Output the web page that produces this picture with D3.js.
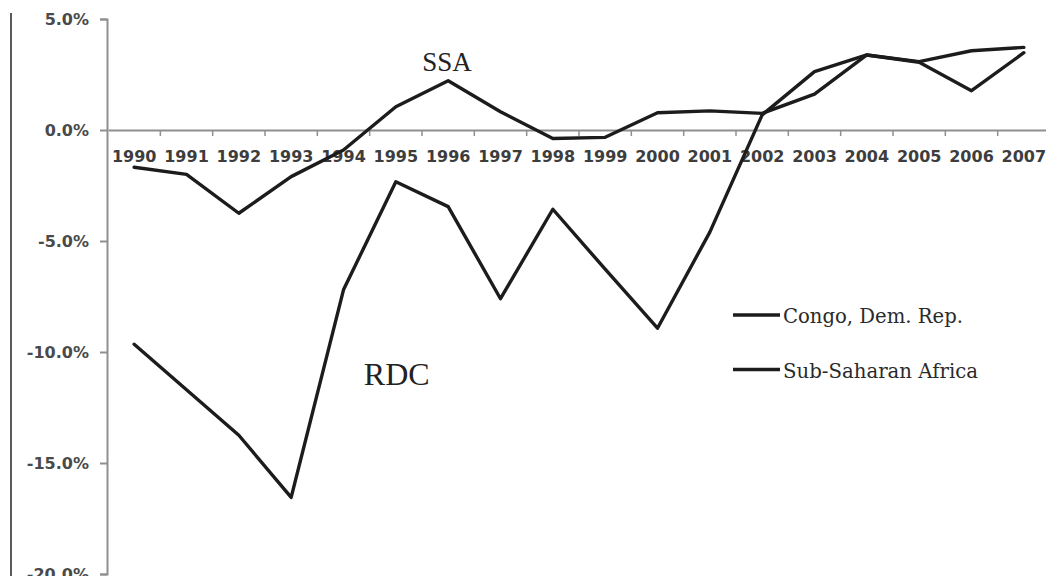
<!DOCTYPE html>
<html>
<head>
<meta charset="utf-8">
<script src="https://cdn.jsdelivr.net/npm/d3@7"></script>
<style>
  html, body { margin: 0; padding: 0; background: #fff; }
  svg { display: block; }
</style>
</head>
<body>
<svg id="chart" width="1046" height="576"></svg>
<script>
// Annual growth, 1990-2007 (percent)
const years = [1990, 1991, 1992, 1993, 1994, 1995, 1996, 1997, 1998, 1999,
               2000, 2001, 2002, 2003, 2004, 2005, 2006, 2007];
const congoDemRep = [-9.65, -11.7, -13.75, -16.55, -7.2, -2.33, -3.45, -7.6, -3.57, -6.27,
                     -8.93, -4.6, 0.68, 2.63, 3.38, 3.05, 1.77, 3.48];
const subSaharanAfrica = [-1.68, -2.0, -3.75, -2.1, -0.9, 1.05, 2.22, 0.82, -0.38, -0.33,
                          0.78, 0.86, 0.75, 1.62, 3.38, 3.08, 3.57, 3.72];
const yTicks = [5, 0, -5, -10, -15, -20];
const seriesNames = ["Congo, Dem. Rep.", "Sub-Saharan Africa"];
const annotations = [
  { text: "SSA", year: 1996, value: 2.22 },
  { text: "RDC", year: 1995, value: -10.0 }
];

const svg = d3.select("#chart");
svg.append("rect").attr("width", 1046).attr("height", 576).attr("fill", "#fff");

const x = d3.scaleBand().domain(years).range([108, 1050]).padding(0);
const y = d3.scaleLinear().domain([-20, 5]).range([574, 19]);
const cx = d => x(d) + x.bandwidth() / 2;

const axisColor = "#8f8f8f";
const labelColor = "#3d3d3d";

// frame rule on the far left
svg.append("line")
  .attr("x1", 11).attr("x2", 11).attr("y1", 13).attr("y2", 576)
  .attr("stroke", "#5a5a5a").attr("stroke-width", 2);

// vertical value axis
const yAxis = svg.append("g")
  .attr("transform", "translate(107,0)")
  .call(d3.axisLeft(y).tickValues(yTicks).tickSize(7).tickPadding(11)
        .tickFormat(d => d.toFixed(1) + "%"));
yAxis.selectAll("path, line").attr("stroke", axisColor).attr("stroke-width", 2);
yAxis.selectAll("text")
  .attr("font-family", "DejaVu Sans").attr("font-weight", "bold")
  .attr("font-size", 16).attr("fill", "#4a4a4a");

// horizontal category axis crossing at zero
const xAxis = svg.append("g")
  .attr("transform", `translate(0,${y(0)})`)
  .call(d3.axisBottom(x).tickSize(0).tickSizeOuter(0).tickPadding(21));
xAxis.select(".domain").attr("stroke", axisColor).attr("stroke-width", 2);
xAxis.selectAll("text")
  .attr("font-family", "DejaVu Sans").attr("font-weight", "bold")
  .attr("font-size", 16).attr("fill", labelColor);
// tick marks sit on the boundaries between years
xAxis.selectAll("line.boundary")
  .data(years.slice(1))
  .join("line")
  .attr("class", "boundary")
  .attr("x1", d => x(d)).attr("x2", d => x(d))
  .attr("y1", 0).attr("y2", 6)
  .attr("stroke", axisColor).attr("stroke-width", 1.5);

// series lines
const line = d3.line()
  .x(d => cx(d.year))
  .y(d => y(d.value));
const series = [
  { name: seriesNames[0], values: years.map((yr, i) => ({ year: yr, value: congoDemRep[i] })) },
  { name: seriesNames[1], values: years.map((yr, i) => ({ year: yr, value: subSaharanAfrica[i] })) }
];
svg.selectAll("path.series")
  .data(series)
  .join("path")
  .attr("class", "series")
  .attr("d", d => line(d.values))
  .attr("fill", "none")
  .attr("stroke", "#1c1c1c")
  .attr("stroke-width", 3.4)
  .attr("stroke-linejoin", "round")
  .attr("stroke-linecap", "round");

// in-plot labels
svg.append("text")
  .attr("x", cx(annotations[0].year) - 26)
  .attr("y", y(annotations[0].value) - 10)
  .attr("font-family", "Liberation Serif").attr("font-size", 27)
  .attr("fill", "#222").text(annotations[0].text);
svg.append("text")
  .attr("x", cx(annotations[1].year) - 32)
  .attr("y", y(annotations[1].value) + 33)
  .attr("font-family", "Liberation Serif").attr("font-size", 32)
  .attr("fill", "#222").text(annotations[1].text);

// legend
const legend = svg.append("g");
const legendRows = [
  { name: seriesNames[0], ly: 315, width: 180 },
  { name: seriesNames[1], ly: 369.5, width: 195 }
];
legendRows.forEach(r => {
  legend.append("line")
    .attr("x1", 733).attr("x2", 780).attr("y1", r.ly).attr("y2", r.ly)
    .attr("stroke", "#1c1c1c").attr("stroke-width", 3.5);
  legend.append("text")
    .attr("x", 783).attr("y", r.ly + 8)
    .attr("font-family", "DejaVu Serif").attr("font-size", 19.5)
    .attr("fill", "#2a2a2a")
    .attr("textLength", r.width).attr("lengthAdjust", "spacingAndGlyphs")
    .text(r.name);
});
</script>
</body>
</html>
